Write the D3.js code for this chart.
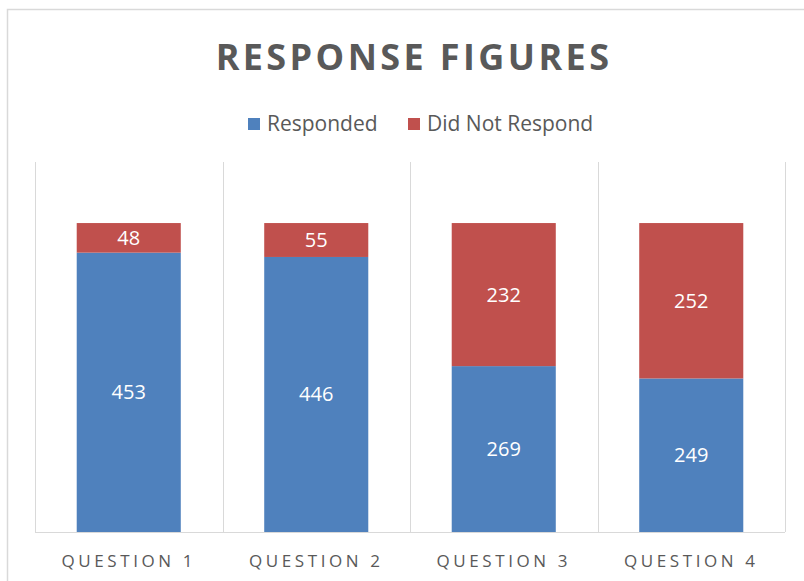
<!DOCTYPE html>
<html>
<head>
<meta charset="utf-8">
<script src="https://cdn.jsdelivr.net/npm/d3@7"></script>
<style>
  body { margin: 0; background: #fff; }
  text { font-family: "Open Sans", "DejaVu Sans", sans-serif; }
</style>
</head>
<body>
<div id="chart"></div>
<script>
var categories = ["QUESTION 1", "QUESTION 2", "QUESTION 3", "QUESTION 4"];
var responded = [453, 446, 269, 249];
var notResponded = [48, 55, 232, 252];
var seriesNames = ["Responded", "Did Not Respond"];
var seriesColors = ["#4F81BD", "#C0504D"];

var width = 804, height = 581;
var margin = { top: 162, right: 19, bottom: 49, left: 35 };

var svg = d3.select("#chart").append("svg")
  .attr("width", width)
  .attr("height", height);

// chart frame (cropped on the right and bottom like the reference)
svg.append("rect")
  .attr("x", 7.5).attr("y", 9.5)
  .attr("width", 820).attr("height", 600)
  .attr("fill", "none")
  .attr("stroke", "#d9d9d9")
  .attr("stroke-width", 1.5);

var x = d3.scaleBand()
  .domain(categories)
  .range([margin.left, width - margin.right])
  .paddingInner(0.445)
  .paddingOuter(0.2225);

var y = d3.scaleLinear()
  .domain([0, 600])
  .range([height - margin.bottom, margin.top]);

var rows = categories.map(function(c, i) {
  return { cat: c, "Responded": responded[i], "Did Not Respond": notResponded[i] };
});
var stack = d3.stack().keys(seriesNames)(rows);

// vertical category separators
var bounds = d3.range(categories.length + 1).map(function(i) {
  return margin.left + i * (width - margin.right - margin.left) / categories.length;
});
svg.append("g").selectAll("line")
  .data(bounds)
  .enter().append("line")
  .attr("x1", function(d) { return Math.round(d) + 0.5; })
  .attr("x2", function(d) { return Math.round(d) + 0.5; })
  .attr("y1", y(600))
  .attr("y2", y(0))
  .attr("stroke", "#d9d9d9")
  .attr("stroke-width", 1);

// baseline
svg.append("line")
  .attr("x1", margin.left).attr("x2", width - margin.right)
  .attr("y1", y(0) + 0.5).attr("y2", y(0) + 0.5)
  .attr("stroke", "#d9d9d9");

var layer = svg.append("g").selectAll("g")
  .data(stack)
  .enter().append("g")
  .attr("fill", function(d, i) { return seriesColors[i]; });

layer.selectAll("rect")
  .data(function(d) { return d; })
  .enter().append("rect")
  .attr("x", function(d) { return x(d.data.cat); })
  .attr("y", function(d) { return y(d[1]); })
  .attr("height", function(d) { return y(d[0]) - y(d[1]); })
  .attr("width", x.bandwidth());

// data labels
layer.selectAll("text")
  .data(function(d) { return d; })
  .enter().append("text")
  .attr("x", function(d) { return x(d.data.cat) + x.bandwidth() / 2; })
  .attr("y", function(d) { return (y(d[0]) + y(d[1])) / 2; })
  .attr("dy", "0.35em")
  .attr("text-anchor", "middle")
  .attr("fill", "#fff")
  .style("font-size", "20px")
  .text(function(d) { return d[1] - d[0]; });

// category labels
svg.append("g").selectAll("text")
  .data(categories)
  .enter().append("text")
  .attr("x", function(d) { return x(d) + x.bandwidth() / 2; })
  .attr("y", 561)
  .attr("dy", "0.35em")
  .attr("text-anchor", "middle")
  .attr("fill", "#595959")
  .style("font-size", "17px")
  .style("letter-spacing", "3.6px")
  .text(function(d) { return d; });

// title
svg.append("text")
  .attr("x", 414)
  .attr("y", 57)
  .attr("dy", "0.35em")
  .attr("text-anchor", "middle")
  .attr("fill", "#595959")
  .style("font-size", "36px")
  .style("font-weight", "bold")
  .style("letter-spacing", "3.4px")
  .text("RESPONSE FIGURES");

// legend
var legendX = [248, 408];
var legend = svg.append("g").selectAll("g")
  .data(seriesNames)
  .enter().append("g")
  .attr("transform", function(d, i) { return "translate(" + legendX[i] + ",124)"; });
legend.append("rect")
  .attr("x", 0).attr("y", -6)
  .attr("width", 12).attr("height", 12)
  .attr("fill", function(d, i) { return seriesColors[i]; });
legend.append("text")
  .attr("x", 19)
  .attr("dy", "0.35em")
  .attr("fill", "#595959")
  .style("font-size", "21px")
  .text(function(d) { return d; });
</script>
</body>
</html>
